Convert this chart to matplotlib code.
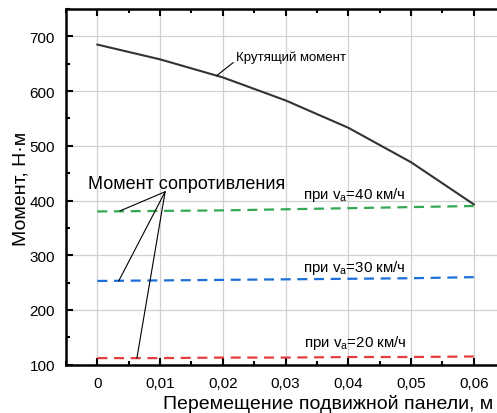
import matplotlib
matplotlib.use("Agg")
import matplotlib.pyplot as plt
from matplotlib.ticker import MultipleLocator

plt.rcParams['font.family'] = ['Liberation Sans', 'DejaVu Sans']

x = [0, 0.01, 0.02, 0.03, 0.04, 0.05, 0.06]
torque = [685, 658, 625, 583, 533, 470, 393]
res40 = [380, 381, 382, 384, 386, 388, 390]
res30 = [253, 254, 255, 256, 257, 258, 260]
res20 = [112, 112, 113, 113, 114, 114, 115]
xticks = [0, 0.01, 0.02, 0.03, 0.04, 0.05, 0.06]
xticklabels = ['0', '0,01', '0,02', '0,03', '0,04', '0,05', '0,06']
yticks = [100, 200, 300, 400, 500, 600, 700]

fig = plt.figure(figsize=(4.97, 4.14), dpi=100)
ax = fig.add_axes([0.1328, 0.1167, 0.8672, 0.8591])

ax.grid(True, color='#d0d0d0', linewidth=0.9, zorder=0)
ax.plot(x, torque, color='#333333', linewidth=1.5, zorder=3)
ds = (4.5, 3)
ax.plot(x, res40, color='#35a853', linewidth=1.6, dashes=ds, zorder=3)
ax.plot(x, res30, color='#1c6fd8', linewidth=1.6, dashes=ds, zorder=3)
ax.plot(x, res20, color='#e53d3d', linewidth=1.6, dashes=ds, zorder=3)

ax.set_xlim(-0.005, 0.0637)
ax.set_ylim(100, 750)
ax.set_xticks(xticks)
ax.set_xticklabels(xticklabels)
ax.set_yticks(yticks)
ax.xaxis.set_minor_locator(MultipleLocator(0.005))
ax.yaxis.set_minor_locator(MultipleLocator(50))
ax.tick_params(which='both', direction='in', top=True, right=False, labelsize=11, width=1.5, pad=8)
ax.tick_params(which='major', length=5)
ax.tick_params(which='minor', length=3)
for s in ['left', 'bottom', 'top']:
    ax.spines[s].set_linewidth(1.8)
ax.spines['right'].set_visible(False)

ax.set_xlabel('Перемещение подвижной панели, м', fontsize=14, va='center')
ax.xaxis.set_label_coords(0.608, -0.109)
ax.set_ylabel('Момент, Н·м', fontsize=14, va='center')
ax.yaxis.set_label_coords(-0.1044, 0.497)

# annotations
ax.annotate('Крутящий момент', xy=(0.0190, 628), xytext=(0.0221, 663),
            fontsize=9.5, va='center', ha='left',
            arrowprops=dict(arrowstyle='-', color='black', lw=0.8, shrinkA=0, shrinkB=0,
                            relpos=(0, 0.2)))
tx, ty = 0.0108, 416
ax.text(0.01426, 432, 'Момент сопротивления', fontsize=13, ha='center', va='center')
for px, py in [(0.0036, 381), (0.0034, 253), (0.0063, 112)]:
    ax.annotate('', xy=(px, py), xytext=(tx, ty),
                arrowprops=dict(arrowstyle='-', color='black', lw=0.8, shrinkA=0, shrinkB=0))

ax.text(0.0327, 412, 'при v$_\\mathregular{a}$=40 км/ч', fontsize=10.8, ha='left', va='center')
ax.text(0.0327, 279, 'при v$_\\mathregular{a}$=30 км/ч', fontsize=10.8, ha='left', va='center')
ax.text(0.0330, 142, 'при v$_\\mathregular{a}$=20 км/ч', fontsize=10.8, ha='left', va='center')

fig.savefig('out.png', dpi=100)
